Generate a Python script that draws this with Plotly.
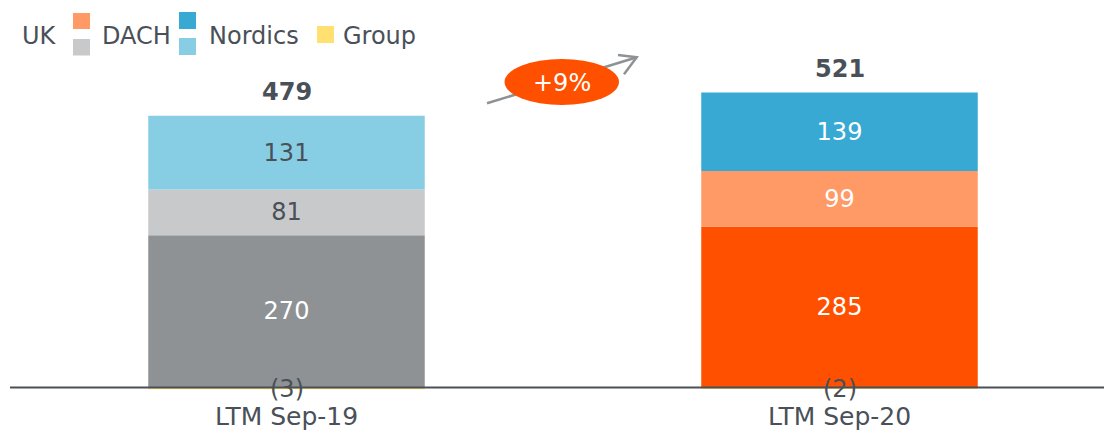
import plotly.graph_objects as go

periods = ["LTM Sep-19", "LTM Sep-20"]
uk = [270, 285]
dach = [81, 99]
nordics = [131, 139]
group = [-3, -2]
growth_label = "+9%"

W, H = 1104, 432
ML, MB = 10, 40
PW, PH = W - ML, H - MB
TXT = "#4A5058"
FONT = "DejaVu Sans"
FS = 24

def px(x):
    return (x - ML) / PW

def py(y):
    return (PH - y) / PH

fig = go.Figure()

series = [
    ("UK", uk, ["#8E9295", "#FF5000"], ["white", "white"]),
    ("DACH", dach, ["#C8C9CB", "#FF9966"], [TXT, "white"]),
    ("Nordics", nordics, ["#87CEE4", "#37A9D3"], [TXT, "white"]),
]
for name, vals, cols, tcols in series:
    fig.add_trace(go.Bar(
        x=periods, y=vals, name=name, marker=dict(color=cols, line=dict(width=0)),
        text=[str(v) for v in vals], textposition="inside", insidetextanchor="middle",
        textangle=0, textfont=dict(family=FONT, size=FS, color=tcols),
        showlegend=False, hoverinfo="skip"))
fig.add_trace(go.Bar(x=periods, y=group, name="Group",
                     marker=dict(color="#FFE070", line=dict(width=0)),
                     showlegend=False, hoverinfo="skip"))

annotations = []
for i, p in enumerate(periods):
    pos_top = uk[i] + dach[i] + nordics[i]
    total = pos_top + group[i]
    annotations.append(dict(x=p, y=pos_top, text=f"<b>{total}</b>", showarrow=False,
                            yanchor="bottom", yshift=8,
                            font=dict(family=FONT, size=FS, color=TXT)))
    annotations.append(dict(x=p, y=0, text=f"({abs(group[i])})", showarrow=False,
                            yanchor="middle", yshift=-1,
                            font=dict(family=FONT, size=FS, color=TXT)))

# legend
leg_text = [("UK", 20), ("DACH", 100), ("Nordics", 207), ("Group", 341)]
for t, x in leg_text:
    annotations.append(dict(xref="paper", yref="paper", x=px(x), y=py(36), text=t,
                            showarrow=False, xanchor="left", yanchor="middle",
                            font=dict(family=FONT, size=FS, color=TXT)))
annotations.append(dict(xref="paper", yref="paper", x=px(562), y=py(83), text=growth_label,
                        showarrow=False, xanchor="center", yanchor="middle",
                        font=dict(family=FONT, size=FS, color="white")))

shapes = []
def rect(x0, y0, x1, y1, col):
    shapes.append(dict(type="rect", xref="paper", yref="paper", x0=px(x0), x1=px(x1),
                       y0=py(y1), y1=py(y0), fillcolor=col, line=dict(width=0)))
rect(73, 13, 90, 29, "#FF9966")
rect(73, 39, 90, 55.5, "#C8C9CB")
rect(179, 12, 196, 29, "#37A9D3")
rect(179, 38, 196, 55, "#87CEE4")
rect(317, 26, 334, 43, "#FFE070")

# arrow
AC = "#8E9295"
shapes.append(dict(type="line", xref="paper", yref="paper", x0=px(487), y0=py(103.3),
                   x1=px(636), y1=py(57.5), line=dict(color=AC, width=2.5)))
shapes.append(dict(type="path", xref="paper", yref="paper",
                   path=f"M {px(618)} {py(55)} L {px(636.7)} {py(57.3)} L {px(624)} {py(74.3)}",
                   line=dict(color=AC, width=2.5)))
shapes.append(dict(type="circle", xref="paper", yref="paper", x0=px(504.5), x1=px(619),
                   y0=py(105), y1=py(59), fillcolor="#FF5000", line=dict(width=0)))
# baseline
shapes.append(dict(type="line", xref="paper", yref="y", x0=0, x1=1, y0=0, y1=0,
                   line=dict(color="#4B5057", width=2), layer="above"))

scale = 0.564
y0 = -(PH - 387.5) / scale
y1 = y0 + PH / scale

fig.update_layout(
    width=W, height=H, barmode="relative", bargap=0.5,
    margin=dict(l=ML, r=0, t=0, b=MB),
    paper_bgcolor="white", plot_bgcolor="white",
    font=dict(family=FONT, size=FS, color=TXT),
    xaxis=dict(range=[-0.5, -0.5 + PW / 553], showgrid=False, zeroline=False, showline=False,
               ticks="", ticklabelstandoff=7, automargin=False,
               tickfont=dict(family=FONT, size=25, color=TXT)),
    yaxis=dict(range=[y0, y1], visible=False, showgrid=False, zeroline=False, automargin=False),
    annotations=annotations, shapes=shapes, showlegend=False,
)

fig.write_html("out.html")
